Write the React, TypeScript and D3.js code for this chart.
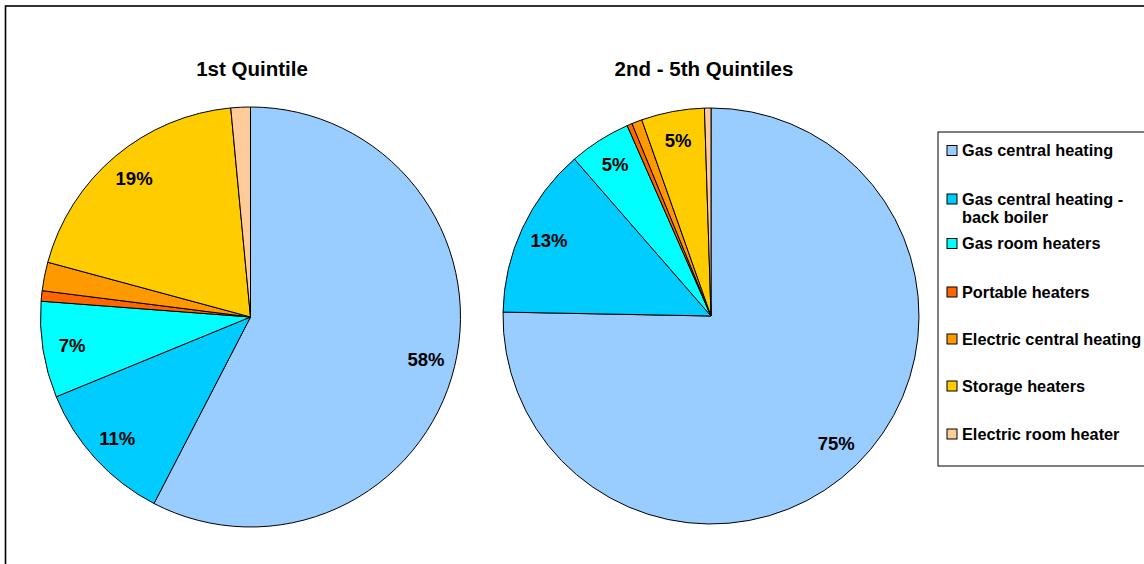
import React, { useMemo } from 'react';
import * as d3 from 'd3';

const categories = [
  'Gas central heating',
  'Gas central heating - back boiler',
  'Gas room heaters',
  'Portable heaters',
  'Electric central heating',
  'Storage heaters',
  'Electric room heater',
];

const colors = ['#99CCFF', '#00CCFF', '#00FFFF', '#FF6600', '#FF9900', '#FFCC00', '#FFCC99'];

const quintile1Values = [57.6, 11.2, 7.4, 0.8, 2.2, 19.3, 1.5];
const quintile2to5Values = [75.3, 13.3, 4.8, 0.4, 0.8, 4.9, 0.5];

const chartTitles = ['1st Quintile', '2nd - 5th Quintiles'];

const W = 1144;
const H = 564;
const FONT = '"Liberation Sans", Arial, sans-serif';

interface PieProps {
  values: number[];
  cx: number;
  cy: number;
  r: number;
  title: string;
  titleX: number;
}

const Pie: React.FC<PieProps> = ({ values, cx, cy, r, title, titleX }) => {
  const arcs = useMemo(() => {
    const pie = d3.pie<number>().sort(null).value(d => d);
    return pie(values);
  }, [values]);

  const arc = d3.arc<d3.PieArcDatum<number>>().innerRadius(0).outerRadius(r);
  const labelArc = d3.arc<d3.PieArcDatum<number>>().innerRadius(r * 0.86).outerRadius(r * 0.86);
  const total = d3.sum(values);

  return (
    <g>
      <text
        x={titleX}
        y={76}
        textAnchor="middle"
        fontFamily={FONT}
        fontWeight="bold"
        fontSize={20.5}
      >
        {title}
      </text>
      <g transform={`translate(${cx}, ${cy})`}>
        {arcs.map((a, i) => (
          <path key={i} d={arc(a) || ''} fill={colors[i]} stroke="#000" strokeWidth={1} strokeLinejoin="round" />
        ))}
        {arcs.map((a, i) => {
          const pct = (a.value / total) * 100;
          if (pct < 3) return null;
          const [x, y] = labelArc.centroid(a);
          return (
            <text
              key={i}
              x={x}
              y={y}
              dy="0.35em"
              textAnchor="middle"
              fontFamily={FONT}
              fontWeight="bold"
              fontSize={18.5}
            >
              {`${Math.round(pct)}%`}
            </text>
          );
        })}
      </g>
    </g>
  );
};

const App: React.FC = () => {
  // legend rows: vertical centre of the first text line
  const legendY = [150.5, 199, 243.5, 292, 339, 386, 434];

  return (
    <svg
      width={W}
      height={H}
      viewBox={`0 0 ${W} ${H}`}
      style={{ position: 'absolute', left: 0, top: 0, background: '#fff' }}
    >
      {/* outer frame */}
      <rect x={5.5} y={6} width={W + 10} height={H + 10} fill="#fff" stroke="#000" strokeWidth={1.6} />

      <Pie values={quintile1Values} cx={250.5} cy={317} r={210} title={chartTitles[0]} titleX={252} />
      <Pie values={quintile2to5Values} cx={711} cy={316} r={208} title={chartTitles[1]} titleX={704} />

      {/* legend */}
      <rect x={938} y={132} width={220} height={334} fill="#fff" stroke="#000" strokeWidth={1} />
      {categories.map((c, i) => {
        const lines = c === 'Gas central heating - back boiler'
          ? ['Gas central heating -', 'back boiler']
          : [c];
        const y = legendY[i];
        return (
          <g key={c}>
            <rect
              x={947}
              y={y - 5}
              width={10}
              height={10}
              fill={colors[i]}
              stroke="#000"
              strokeWidth={1}
            />
            <text x={962} y={y} fontFamily={FONT} fontWeight="bold" fontSize={16.3}>
              {lines.map((l, j) => (
                <tspan key={j} x={962} dy={j === 0 ? '0.35em' : 18.5}>
                  {l}
                </tspan>
              ))}
            </text>
          </g>
        );
      })}
    </svg>
  );
};

export default App;
